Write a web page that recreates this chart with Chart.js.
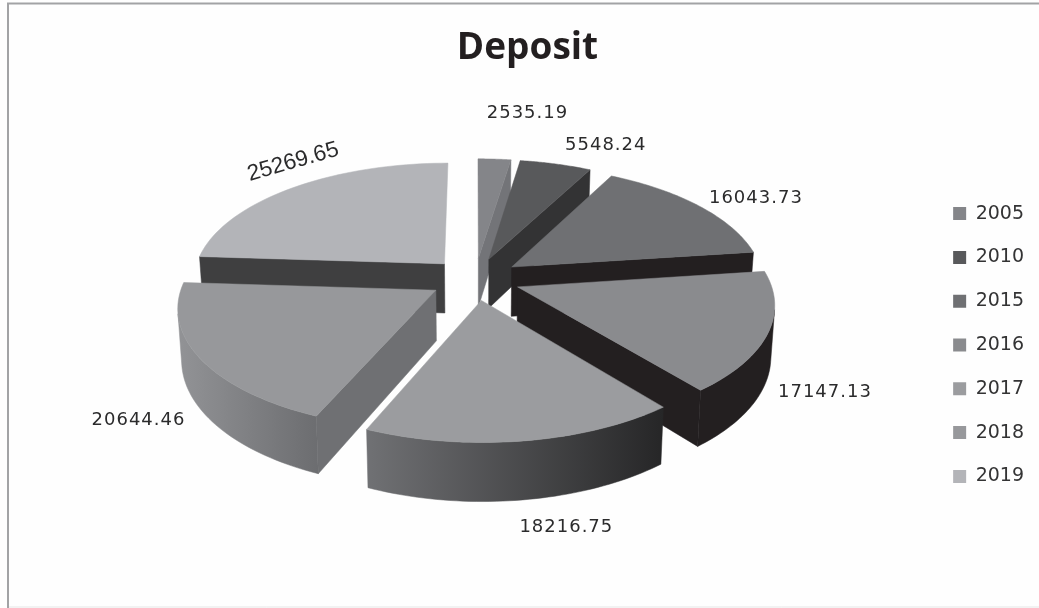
<!DOCTYPE html>
<html>
<head>
<meta charset="utf-8">
<style>html,body{margin:0;padding:0;background:#fff}#w{width:1039px;height:608px;position:relative;overflow:hidden}canvas{display:block;filter:blur(0.45px)}</style>
<script src="https://cdn.jsdelivr.net/npm/chart.js@4"></script>
</head>
<body>
<div id="w"><canvas id="c" width="1039" height="608"></canvas></div>
<script>
const years = ['2005','2010','2015','2016','2017','2018','2019'];
const deposit = [2535.19,5548.24,16043.73,17147.13,18216.75,20644.46,25269.65];
const depositText = ['2535.19','5548.24','16043.73','17147.13','18216.75','20644.46','25269.65'];
const topColors = ['#848589','#58595b','#6f7073','#8a8b8e','#9b9c9f','#97989b','#b3b4b8'];
const radialColors = ['#737478','#333334','#231f20','#231f20','#6f7073','#6f7073','#3f3f40'];
const wallLeft = ['#737478','#333334','#231f20','#231f20','#707174','#929396','#3f3f40'];
const wallRight = ['#737478','#333334','#231f20','#231f20','#262627','#6c6d70','#3f3f40'];
const paintOrder = [6,0,1,2,5,3,4];
const labelNudge = [[33,-46],[50,-19],[57,-8],[57,59],[43,86],[-61,62],[1,-26]];
const legendShift = 28;

const view = {cx:475, cy:279, w:252, a:117.5, b:0.13, depth:50, shrink:0.987, explode:0.18};
function project(u,t,down){
  const d = 1 - view.b*t;
  let x = view.cx + view.w*u/d, y = view.cy + view.a*t/d;
  if(down){ x = view.cx + (x-view.cx)*view.shrink; y += view.depth/d; }
  return [x,y];
}
function area(p){let s=0;for(let i=0;i<p.length;i++){const q=p[(i+1)%p.length];s+=p[i][0]*q[1]-q[0]*p[i][1];}return s;}
function poly(ctx,p,fill){ctx.beginPath();p.forEach((q,i)=>i?ctx.lineTo(q[0],q[1]):ctx.moveTo(q[0],q[1]));ctx.closePath();ctx.fillStyle=fill;ctx.fill();ctx.strokeStyle=fill;ctx.lineWidth=0.5;ctx.stroke();}

const pie3d = {
  id:'pie3d',
  afterLayout(chart){ chart.legend.top += legendShift; chart.legend.bottom += legendShift; },
  beforeDraw(chart){
    const ctx=chart.ctx;
    ctx.save();ctx.fillStyle='#fefefe';ctx.fillRect(0,0,1039,608);
    ctx.strokeStyle='#a2a3a5';ctx.lineWidth=2;
    ctx.beginPath();ctx.moveTo(8,608);ctx.lineTo(8,3.5);ctx.lineTo(1039,3.5);ctx.stroke();
    ctx.strokeStyle='#e6e6e6';ctx.lineWidth=1;
    ctx.beginPath();ctx.moveTo(9,607);ctx.lineTo(1039,607);ctx.stroke();
    ctx.restore();
  },
  beforeDatasetDraw(chart){
    const ctx=chart.ctx, arcs=chart.getDatasetMeta(0).data;
    ctx.save();
    paintOrder.forEach(i=>{
      const s=arcs[i].startAngle+Math.PI/2, e=arcs[i].endAngle+Math.PI/2, m=(s+e)/2;
      const ou=view.explode*Math.sin(m), ot=-view.explode*Math.cos(m);
      const pt=(th,r,dn)=>project(ou+r*Math.sin(th),ot-r*Math.cos(th),dn);
      const N=48, top=[], low=[];
      for(let k=0;k<=N;k++){const th=s+(e-s)*k/N;top.push(pt(th,1,false));low.push(pt(th,1,true));}
      const at=pt(0,0,false), ab=pt(0,0,true);
      const fs=[at,top[0],low[0],ab], fe=[at,top[N],low[N],ab];
      if(area(fs)<-500) poly(ctx,fs,radialColors[i]);
      if(area(fe)>500) poly(ctx,fe,radialColors[i]);
      let k0=-1,k1=-1;
      for(let k=0;k<N;k++){
        if(area([top[k],top[k+1],low[k+1],low[k]])<0){ if(k0<0)k0=k; k1=k+1; }
      }
      if(k0>=0){
        const wt=top.slice(k0,k1+1), wl=low.slice(k0,k1+1).reverse(), wall=wt.concat(wl);
        const xs=wall.map(q=>q[0]);
        const g=ctx.createLinearGradient(Math.min(...xs),0,Math.max(...xs),0);
        g.addColorStop(0,wallLeft[i]);g.addColorStop(1,wallRight[i]);
        poly(ctx,wall,g);
      }
      poly(ctx,[at].concat(top),topColors[i]);
    });
    ctx.fillStyle='#2b2b2c';ctx.textAlign='center';ctx.textBaseline='middle';
    arcs.forEach((arc,i)=>{
      const m=(arc.startAngle+arc.endAngle)/2+Math.PI/2, r=1+view.explode;
      const p=project(r*Math.sin(m),-r*Math.cos(m),false);
      const x=p[0]+labelNudge[i][0], y=p[1]+labelNudge[i][1];
      ctx.save();ctx.translate(x,y);
      if(i===6){ctx.rotate(-16*Math.PI/180);ctx.font='22.5px "Liberation Sans"';ctx.letterSpacing='0px';}
      else{ctx.font='18px "DejaVu Sans"';ctx.letterSpacing='1px';}
      ctx.fillText(depositText[i],0,0);ctx.restore();
    });
    ctx.restore();
    return false;
  }
};

new Chart(document.getElementById('c'),{
  type:'pie',
  data:{labels:years,datasets:[{data:deposit,backgroundColor:topColors,borderWidth:0}]},
  plugins:[pie3d],
  options:{
    responsive:false,animation:false,
    layout:{padding:{left:21,right:5,top:26,bottom:0}},
    plugins:{
      title:{display:true,text:'Deposit',color:'#231f20',font:{family:'"Open Sans"',size:37,weight:'bold'},padding:{top:0,bottom:64}},
      legend:{position:'right',labels:{boxWidth:13,boxHeight:13,padding:24.8,color:'#333334',font:{family:'"DejaVu Sans"',size:19}}},
      tooltip:{enabled:false}
    }
  }
});
</script>
</body>
</html>
